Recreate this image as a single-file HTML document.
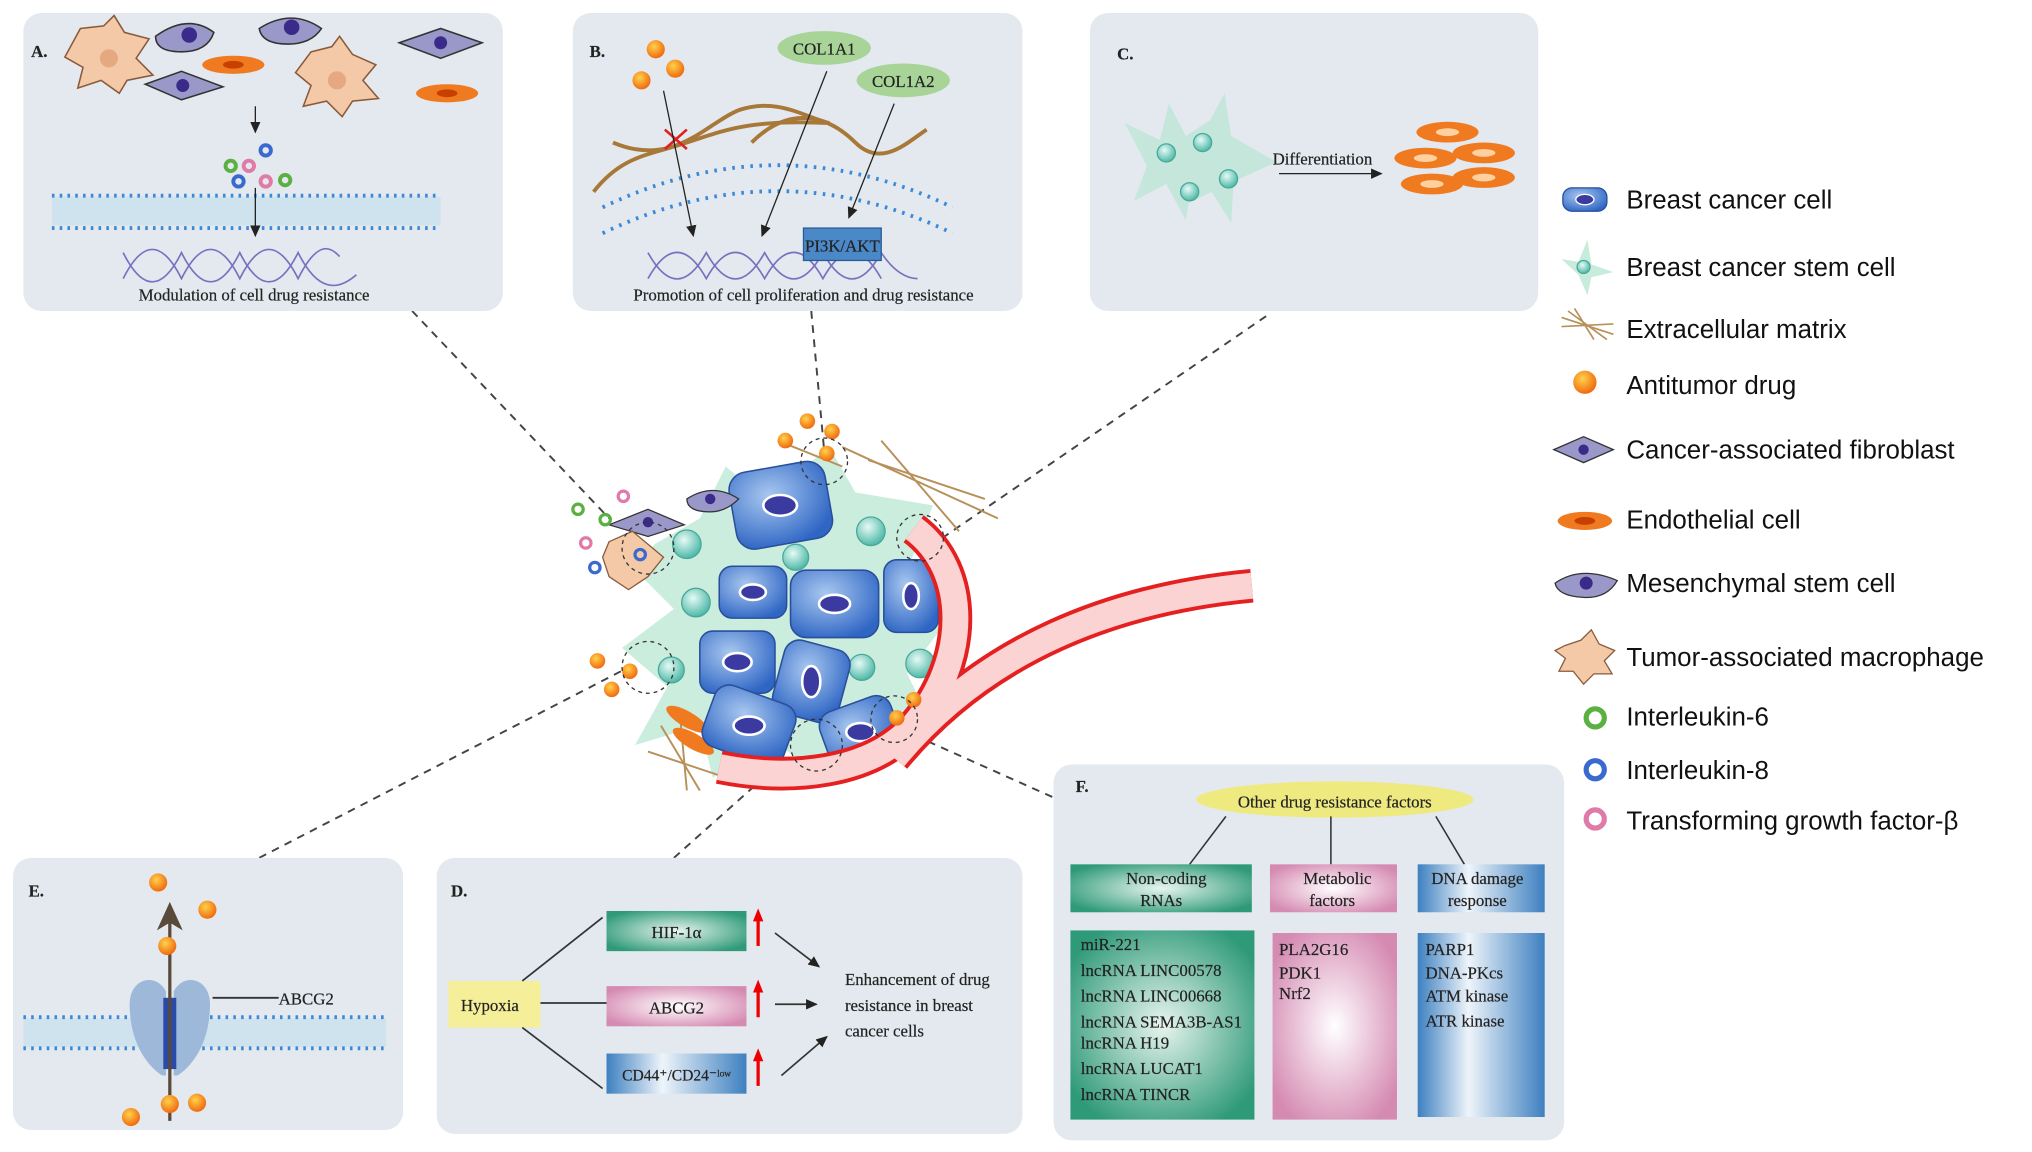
<!DOCTYPE html>
<html><head><meta charset="utf-8"><style>
html,body{margin:0;padding:0;background:#fff}
svg{display:block}
text{font-family:"Liberation Serif",serif;fill:#222;stroke:#222;stroke-width:0.15}
.lg{font-family:"Liberation Sans",sans-serif;font-size:20px;fill:#111;stroke:none}
</style></head><body>
<svg width="2032" height="1152" viewBox="0 0 1568 889" xmlns="http://www.w3.org/2000/svg">
<defs>
<radialGradient id="gG" cx="50%" cy="50%" r="60%"><stop offset="0" stop-color="#e8f5ef"/><stop offset="1" stop-color="#2f9a78"/></radialGradient>
<radialGradient id="gP" cx="50%" cy="50%" r="60%"><stop offset="0" stop-color="#fff"/><stop offset="1" stop-color="#d58ab2"/></radialGradient>
<linearGradient id="gB" x1="0" x2="1"><stop offset="0" stop-color="#3d80c0"/><stop offset=".4" stop-color="#eef4fa"/><stop offset="1" stop-color="#3d80c0"/></linearGradient>
<radialGradient id="drug" cx="40%" cy="35%" r="65%"><stop offset="0" stop-color="#ffd24a"/><stop offset="1" stop-color="#f06a10"/></radialGradient>
<radialGradient id="cell" cx="40%" cy="35%" r="70%"><stop offset="0" stop-color="#a9c8f0"/><stop offset="1" stop-color="#2f66c4"/></radialGradient>
<radialGradient id="teal" cx="40%" cy="35%" r="65%"><stop offset="0" stop-color="#e6faf6"/><stop offset="1" stop-color="#4fb9a8"/></radialGradient>
<marker id="ar" markerUnits="userSpaceOnUse" markerWidth="10" markerHeight="10" refX="8" refY="4" orient="auto"><path d="M0,0 L9,4 L0,8 z" fill="#222"/></marker>
<marker id="ra" markerUnits="userSpaceOnUse" markerWidth="10" markerHeight="10" refX="5" refY="5" orient="auto"><path d="M0,1 L10,5 L0,9 z" fill="#e00"/></marker>
</defs>

<g stroke="#444" stroke-width="1.5" stroke-dasharray="6,5" fill="none">
<line x1="318" y1="240" x2="470" y2="400"/>
<line x1="626" y1="240" x2="636" y2="348"/>
<line x1="977" y1="244" x2="720" y2="420"/>
<line x1="200" y1="662" x2="485" y2="515"/>
<line x1="520" y1="662" x2="612" y2="580"/>
<line x1="812" y1="615" x2="700" y2="565"/>
</g>

<g fill="#e3e9ee">
<rect x="18" y="10" width="370" height="230" rx="14"/>
<rect x="442" y="10" width="347" height="230" rx="14"/>
<rect x="841" y="10" width="346" height="230" rx="14"/>
<rect x="10" y="662" width="301" height="210" rx="14"/>
<rect x="337" y="662" width="452" height="213" rx="14"/>
<rect x="813" y="590" width="394" height="290" rx="14"/>
</g>

<!-- Panel A -->
<text x="24" y="44" font-size="13" font-weight="bold">A.</text>
<g fill="#f4c9a8" stroke="#8a5a3a" stroke-width="1.2">
<path d="M62,22 L80,20 L88,12 L96,25 L115,30 L105,45 L118,58 L98,62 L92,72 L78,62 L60,68 L64,52 L50,44 Z"/>
<path d="M240,40 L256,36 L262,28 L272,42 L290,50 L280,62 L292,76 L272,78 L264,90 L252,78 L234,82 L240,66 L228,56 Z"/>
</g>
<circle cx="84" cy="45" r="7" fill="#e6a880"/><circle cx="260" cy="62" r="7" fill="#e6a880"/>
<g fill="#9a98c8" stroke="#333" stroke-width="1.2">
<path d="M120,28 Q145,10 165,25 Q160,40 140,40 Q120,40 120,28Z"/>
<path d="M200,22 Q225,6 248,22 Q240,34 222,34 Q202,34 200,22Z"/>
<path d="M112,65 L140,55 L172,67 L140,77Z"/>
<path d="M308,33 L340,22 L372,33 L340,45Z"/>
</g>
<g fill="#3a2a8a"><circle cx="146" cy="27" r="6"/><circle cx="225" cy="21" r="6"/><circle cx="141" cy="66" r="5"/><circle cx="340" cy="33" r="5"/></g>
<g fill="#f07a20"><ellipse cx="180" cy="50" rx="24" ry="7"/><ellipse cx="345" cy="72" rx="24" ry="7"/></g>
<g fill="#c74000"><ellipse cx="180" cy="50" rx="8" ry="3"/><ellipse cx="345" cy="72" rx="8" ry="3"/></g>
<line x1="197" y1="82" x2="197" y2="102" stroke="#222" marker-end="url(#ar)"/>
<g fill="none" stroke-width="3"><circle cx="205" cy="116" r="4" stroke="#3a6ad0"/><circle cx="178" cy="128" r="4" stroke="#5ab040"/><circle cx="192" cy="128" r="4" stroke="#e07aa8"/><circle cx="184" cy="140" r="4" stroke="#3a6ad0"/><circle cx="205" cy="140" r="4" stroke="#e07aa8"/><circle cx="220" cy="139" r="4" stroke="#5ab040"/></g>
<rect x="40" y="152" width="300" height="22" fill="#cfe3ef"/>
<line x1="40" y1="151" x2="340" y2="151" stroke="#3a8ad8" stroke-width="3" stroke-dasharray="2,4"/>
<line x1="40" y1="176" x2="340" y2="176" stroke="#3a8ad8" stroke-width="3" stroke-dasharray="2,4"/>
<line x1="197" y1="145" x2="197" y2="182" stroke="#222" marker-end="url(#ar)"/>
<path d="M95,195 C110,225 125,225 140,195 C155,225 170,225 185,195 C200,225 215,225 230,195 C245,225 260,225 275,212" fill="none" stroke="#7a70c0" stroke-width="1.3"/>
<path d="M95,215 C110,185 125,185 140,215 C155,185 170,185 185,215 C200,185 215,185 230,215 C245,185 255,190 262,198" fill="none" stroke="#7a70c0" stroke-width="1.3"/>
<text x="196" y="232" font-size="13" text-anchor="middle">Modulation of cell drug resistance</text>

<!-- Panel B -->
<text x="455" y="44" font-size="13" font-weight="bold">B.</text>
<g fill="url(#drug)"><circle cx="506" cy="38" r="7"/><circle cx="495" cy="62" r="7"/><circle cx="521" cy="53" r="7"/></g>
<ellipse cx="636" cy="37" rx="36" ry="13" fill="#a8d498"/><text x="636" y="42" font-size="13" text-anchor="middle">COL1A1</text>
<ellipse cx="697" cy="62" rx="36" ry="13" fill="#a8d498"/><text x="697" y="67" font-size="13" text-anchor="middle">COL1A2</text>
<path d="M458,148 C480,120 500,120 530,110 C560,100 580,92 640,95" fill="none" stroke="#a87838" stroke-width="3"/>
<path d="M473,110 C520,130 545,95 570,85 C600,75 620,90 640,95" fill="none" stroke="#a87838" stroke-width="3"/>
<path d="M580,110 C610,80 640,90 660,110 C680,130 700,110 715,100" fill="none" stroke="#a87838" stroke-width="3"/>
<path d="M465,160 Q600,95 735,160" fill="none" stroke="#3a8ad8" stroke-width="3" stroke-dasharray="2,5"/>
<path d="M465,180 Q600,115 735,180" fill="none" stroke="#3a8ad8" stroke-width="3" stroke-dasharray="2,5"/>
<path d="M513,100 L530,115 M530,100 L513,115" stroke="#e02020" stroke-width="2"/>
<line x1="512" y1="70" x2="535" y2="182" stroke="#222" marker-end="url(#ar)"/>
<line x1="638" y1="55" x2="588" y2="182" stroke="#222" marker-end="url(#ar)"/>
<line x1="690" y1="80" x2="655" y2="168" stroke="#222" marker-end="url(#ar)"/>
<path d="M500,195 C515,222 530,222 545,195 C560,222 575,222 590,195 C605,222 620,222 635,195 C650,222 665,222 680,195 C690,210 700,215 708,215" fill="none" stroke="#7a70c0" stroke-width="1.3"/>
<path d="M500,215 C515,188 530,188 545,215 C560,188 575,188 590,215 C605,188 620,188 635,215 C650,188 665,188 680,215" fill="none" stroke="#7a70c0" stroke-width="1.3"/>
<rect x="620" y="176" width="60" height="25" fill="#4a88c8" stroke="#2a5a98"/>
<text x="650" y="194" font-size="13" text-anchor="middle">PI3K/AKT</text>
<text x="620" y="232" font-size="13" text-anchor="middle">Promotion of cell proliferation and drug resistance</text>

<!-- Panel C -->
<text x="862" y="46" font-size="13" font-weight="bold">C.</text>
<g fill="#bfe6d8" opacity=".85">
<path d="M868,95 L895,108 L902,80 L915,105 L935,92 L925,120 L950,130 L920,140 L915,170 L900,142 L875,155 L885,128 Z"/>
<path d="M905,110 L930,100 L945,72 L950,105 L985,125 L952,140 L950,172 L935,148 L910,160 L918,135 Z"/>
</g>
<g fill="url(#teal)" stroke="#4aa898"><circle cx="900" cy="118" r="7"/><circle cx="928" cy="110" r="7"/><circle cx="948" cy="138" r="7"/><circle cx="918" cy="148" r="7"/></g>
<text x="982" y="127" font-size="13">Differentiation</text>
<line x1="987" y1="134" x2="1066" y2="134" stroke="#222" marker-end="url(#ar)"/>
<g fill="#f07a20"><ellipse cx="1117" cy="102" rx="24" ry="8"/><ellipse cx="1100" cy="122" rx="24" ry="8"/><ellipse cx="1145" cy="118" rx="24" ry="8"/><ellipse cx="1105" cy="142" rx="24" ry="8"/><ellipse cx="1145" cy="137" rx="24" ry="8"/></g>
<g fill="#ffd0a0"><ellipse cx="1117" cy="102" rx="9" ry="3"/><ellipse cx="1100" cy="122" rx="9" ry="3"/><ellipse cx="1145" cy="118" rx="9" ry="3"/><ellipse cx="1105" cy="142" rx="9" ry="3"/><ellipse cx="1145" cy="137" rx="9" ry="3"/></g>

<!-- Panel E -->
<text x="22" y="692" font-size="13" font-weight="bold">E.</text>
<rect x="18" y="786" width="280" height="22" fill="#cfe3ef"/>
<line x1="18" y1="785" x2="298" y2="785" stroke="#3a8ad8" stroke-width="3" stroke-dasharray="2,4"/>
<line x1="18" y1="809" x2="298" y2="809" stroke="#3a8ad8" stroke-width="3" stroke-dasharray="2,4"/>
<path d="M128,765 C120,750 100,755 100,775 C100,800 110,820 125,830 L128,830 Z" fill="#9db8d8"/>
<path d="M134,765 C142,750 162,755 162,775 C162,800 152,820 137,830 L134,830 Z" fill="#9db8d8"/>
<rect x="126" y="770" width="10" height="55" fill="#2a4aa8"/>
<line x1="131" y1="865" x2="131" y2="710" stroke="#5a4a3a" stroke-width="2.5"/>
<path d="M121,718 L131,696 L141,718 L131,712Z" fill="#5a4a3a"/>
<line x1="164" y1="770" x2="215" y2="770" stroke="#333" stroke-width="1.5"/>
<text x="215" y="775" font-size="13">ABCG2</text>
<g fill="url(#drug)"><circle cx="122" cy="681" r="7"/><circle cx="160" cy="702" r="7"/><circle cx="129" cy="730" r="7"/><circle cx="131" cy="852" r="7"/><circle cx="152" cy="851" r="7"/><circle cx="101" cy="862" r="7"/></g>

<!-- Panel D -->
<text x="348" y="692" font-size="13" font-weight="bold">D.</text>
<rect x="346" y="757" width="71" height="36" fill="#f5ef9a"/>
<text x="378" y="780" font-size="13" text-anchor="middle">Hypoxia</text>
<rect x="468" y="703" width="108" height="31" fill="url(#gG)"/>
<text x="522" y="724" font-size="13" text-anchor="middle">HIF-1α</text>
<rect x="468" y="761" width="108" height="31" fill="url(#gP)"/>
<text x="522" y="782" font-size="13" text-anchor="middle">ABCG2</text>
<rect x="468" y="813" width="108" height="31" fill="url(#gB)"/>
<text x="522" y="834" font-size="12" text-anchor="middle">CD44⁺/CD24⁻ˡᵒʷ</text>
<g stroke="#333" stroke-width="1.3"><line x1="403" y1="757" x2="465" y2="708"/><line x1="417" y1="774" x2="468" y2="774"/><line x1="403" y1="793" x2="465" y2="840"/></g>
<g stroke="#e00" stroke-width="2.5"><line x1="585" y1="730" x2="585" y2="706" marker-end="url(#ra)"/><line x1="585" y1="785" x2="585" y2="761" marker-end="url(#ra)"/><line x1="585" y1="838" x2="585" y2="814" marker-end="url(#ra)"/></g>
<g stroke="#333" stroke-width="1.3"><line x1="598" y1="720" x2="632" y2="746" marker-end="url(#ar)"/><line x1="598" y1="775" x2="630" y2="775" marker-end="url(#ar)"/><line x1="603" y1="830" x2="638" y2="800" marker-end="url(#ar)"/></g>
<text font-size="13"><tspan x="652" y="760">Enhancement of  drug</tspan><tspan x="652" y="780">resistance in breast</tspan><tspan x="652" y="800">cancer cells</tspan></text>

<!-- Panel F -->
<text x="830" y="611" font-size="13" font-weight="bold">F.</text>
<ellipse cx="1030" cy="617" rx="107" ry="14" fill="#eeea80"/>
<text x="1030" y="623" font-size="13" text-anchor="middle">Other  drug resistance factors</text>
<g stroke="#333" stroke-width="1.2"><line x1="946" y1="630" x2="918" y2="667"/><line x1="1027" y1="630" x2="1027" y2="667"/><line x1="1108" y1="630" x2="1130" y2="667"/></g>
<rect x="826" y="667" width="140" height="37" fill="url(#gG)"/>
<rect x="980" y="667" width="98" height="37" fill="url(#gP)"/>
<rect x="1094" y="667" width="98" height="37" fill="url(#gB)"/>
<g font-size="13" text-anchor="middle"><text x="900" y="682">Non-coding</text><text x="896" y="699">RNAs</text><text x="1032" y="682">Metabolic</text><text x="1028" y="699">factors</text><text x="1140" y="682">DNA damage</text><text x="1140" y="699">response</text></g>
<rect x="826" y="718" width="142" height="146" fill="url(#gG)"/>
<rect x="982" y="720" width="96" height="144" fill="url(#gP)"/>
<rect x="1094" y="720" width="98" height="142" fill="url(#gB)"/>
<g font-size="13"><text x="834" y="733">miR-221</text><text x="834" y="753">lncRNA LINC00578</text><text x="834" y="773">lncRNA LINC00668</text><text x="834" y="793">lncRNA SEMA3B-AS1</text><text x="834" y="809">lncRNA H19</text><text x="834" y="829">lncRNA LUCAT1</text><text x="834" y="849">lncRNA TINCR</text>
<text x="987" y="737">PLA2G16</text><text x="987" y="755">PDK1</text><text x="987" y="771">Nrf2</text>
<text x="1100" y="737">PARP1</text><text x="1100" y="755">DNA-PKcs</text><text x="1100" y="773">ATM kinase</text><text x="1100" y="792">ATR kinase</text></g>

<!-- Central tumor -->
<g fill="#c8ecdc" opacity=".95">
<path d="M505,420 L540,400 L560,360 L590,385 L640,345 L660,380 L720,390 L700,440 L730,480 L700,520 L720,560 L660,560 L640,600 L600,575 L550,600 L540,560 L490,575 L515,530 L480,500 L520,470 L490,440 Z"/>
</g>
<g stroke="#b8905a" stroke-width="1.5"><line x1="650" y1="345" x2="770" y2="400"/><line x1="670" y1="355" x2="760" y2="385"/><line x1="680" y1="340" x2="740" y2="410"/><line x1="600" y1="340" x2="650" y2="360"/><line x1="510" y1="560" x2="540" y2="610"/><line x1="525" y1="555" x2="530" y2="610"/><line x1="500" y1="580" x2="560" y2="600"/></g>
<g fill="#f07a20"><ellipse cx="530" cy="555" rx="18" ry="6" transform="rotate(30 530 555)"/><ellipse cx="535" cy="572" rx="18" ry="6" transform="rotate(30 535 572)"/></g>
<g fill="url(#teal)" stroke="#4aa898"><circle cx="530" cy="420" r="11"/><circle cx="537" cy="465" r="11"/><circle cx="672" cy="410" r="11"/><circle cx="614" cy="430" r="10"/><circle cx="665" cy="515" r="10"/><circle cx="710" cy="512" r="11"/><circle cx="518" cy="517" r="10"/></g>
<g fill="url(#cell)" stroke="#2a4f9a" stroke-width="1.2">
<rect x="565" y="360" width="75" height="60" rx="14" transform="rotate(-10 602 390)"/>
<rect x="555" y="437" width="52" height="40" rx="10"/>
<rect x="610" y="440" width="68" height="52" rx="12"/>
<rect x="682" y="432" width="42" height="56" rx="10"/>
<rect x="540" y="487" width="58" height="48" rx="10"/>
<rect x="600" y="497" width="52" height="58" rx="12" transform="rotate(15 626 526)"/>
<rect x="545" y="535" width="66" height="50" rx="12" transform="rotate(20 578 560)"/>
<rect x="635" y="542" width="58" height="46" rx="12" transform="rotate(-20 664 565)"/>
</g>
<g fill="#3a3aa0" stroke="#fff" stroke-width="2"><ellipse cx="602" cy="390" rx="13" ry="8"/><ellipse cx="581" cy="457" rx="10" ry="6"/><ellipse cx="644" cy="466" rx="12" ry="7"/><ellipse cx="703" cy="460" rx="6" ry="10"/><ellipse cx="569" cy="511" rx="11" ry="7"/><ellipse cx="626" cy="526" rx="7" ry="12"/><ellipse cx="578" cy="560" rx="12" ry="7"/><ellipse cx="664" cy="565" rx="11" ry="7"/></g>
<g fill="none" stroke-linecap="butt">
<path d="M705,408 C748,440 748,510 705,560 C672,597 610,603 555,592" stroke="#e52020" stroke-width="26"/>
<path d="M690,585 C760,500 860,462 966,452" stroke="#e52020" stroke-width="26"/>
<path d="M705,408 C748,440 748,510 705,560 C672,597 610,603 555,592" stroke="#fbd3d3" stroke-width="20"/>
<path d="M690,585 C760,500 860,462 966,452" stroke="#fbd3d3" stroke-width="20"/>
</g>
<path d="M470,405 L500,393 L528,405 L500,414Z" fill="#9a98c8" stroke="#333"/><circle cx="500" cy="403" r="4" fill="#3a2a8a"/>
<path d="M530,385 Q550,372 570,385 Q560,395 548,395 Q530,395 530,385Z" fill="#9a98c8" stroke="#333"/><circle cx="548" cy="385" r="4" fill="#3a2a8a"/>
<path d="M470,418 L488,410 L500,420 L512,430 L500,445 L485,455 L470,445 L465,430Z" fill="#f4c9a8" stroke="#8a5a3a"/>
<g fill="url(#drug)"><circle cx="606" cy="340" r="6"/><circle cx="623" cy="325" r="6"/><circle cx="642" cy="333" r="6"/><circle cx="638" cy="350" r="6"/><circle cx="461" cy="510" r="6"/><circle cx="486" cy="518" r="6"/><circle cx="472" cy="532" r="6"/><circle cx="692" cy="554" r="6"/><circle cx="705" cy="540" r="6"/></g>
<g fill="none" stroke-width="2.5"><circle cx="446" cy="393" r="4" stroke="#5ab040"/><circle cx="467" cy="401" r="4" stroke="#5ab040"/><circle cx="481" cy="383" r="4" stroke="#e07aa8"/><circle cx="452" cy="419" r="4" stroke="#e07aa8"/><circle cx="459" cy="438" r="4" stroke="#3a6ad0"/><circle cx="494" cy="428" r="4" stroke="#3a6ad0"/></g>
<g fill="none" stroke="#333" stroke-dasharray="3,3"><circle cx="636" cy="356" r="18"/><circle cx="500" cy="423" r="20"/><circle cx="500" cy="515" r="20"/><circle cx="630" cy="575" r="20"/><circle cx="690" cy="555" r="18"/><circle cx="710" cy="415" r="18"/></g>

<!-- Legend -->
<rect x="1206" y="145" width="34" height="18" rx="7" fill="url(#cell)" stroke="#2a4f9a"/><ellipse cx="1223" cy="154" rx="7" ry="4" fill="#3a3aa0" stroke="#fff"/>
<path d="M1205,200 L1218,202 L1225,185 L1228,204 L1245,210 L1228,214 L1225,228 L1218,212Z" fill="#c8ecdc"/><circle cx="1222" cy="206" r="5" fill="url(#teal)" stroke="#4aa898"/>
<g stroke="#b8905a" stroke-width="1.3"><line x1="1205" y1="245" x2="1245" y2="258"/><line x1="1210" y1="240" x2="1240" y2="262"/><line x1="1205" y1="252" x2="1245" y2="250"/><line x1="1215" y1="238" x2="1230" y2="262"/></g>
<circle cx="1223" cy="295" r="9" fill="url(#drug)"/>
<path d="M1199,347 L1222,337 L1245,347 L1222,357Z" fill="#9a98c8" stroke="#333"/><circle cx="1222" cy="347" r="4" fill="#3a2a8a"/>
<ellipse cx="1223" cy="402" rx="21" ry="7" fill="#f07a20"/><ellipse cx="1223" cy="402" rx="8" ry="3" fill="#c74000"/>
<path d="M1200,450 Q1220,436 1248,448 Q1240,462 1222,461 Q1202,460 1200,450Z" fill="#9a98c8" stroke="#333"/><circle cx="1224" cy="450" r="5" fill="#3a2a8a"/>
<path d="M1208,498 L1220,494 L1228,486 L1234,497 L1246,502 L1238,510 L1244,520 L1230,520 L1222,528 L1214,518 L1203,518 L1208,508 L1200,502Z" fill="#f4c9a8" stroke="#8a5a3a"/>
<circle cx="1231" cy="554" r="7" fill="#fff" stroke="#5ab040" stroke-width="4"/>
<circle cx="1231" cy="594" r="7" fill="#fff" stroke="#3a6ad0" stroke-width="4"/>
<circle cx="1231" cy="632" r="7" fill="#fff" stroke="#e07aa8" stroke-width="4"/>
<text class="lg" x="1255" y="161">Breast cancer cell</text>
<text class="lg" x="1255" y="213">Breast cancer stem cell</text>
<text class="lg" x="1255" y="261">Extracellular matrix</text>
<text class="lg" x="1255" y="304">Antitumor drug</text>
<text class="lg" x="1255" y="354">Cancer-associated fibroblast</text>
<text class="lg" x="1255" y="408">Endothelial cell</text>
<text class="lg" x="1255" y="457">Mesenchymal stem cell</text>
<text class="lg" x="1255" y="514">Tumor-associated macrophage</text>
<text class="lg" x="1255" y="560">Interleukin-6</text>
<text class="lg" x="1255" y="601">Interleukin-8</text>
<text class="lg" x="1255" y="640">Transforming growth factor-β</text>
</svg>
</body></html>
